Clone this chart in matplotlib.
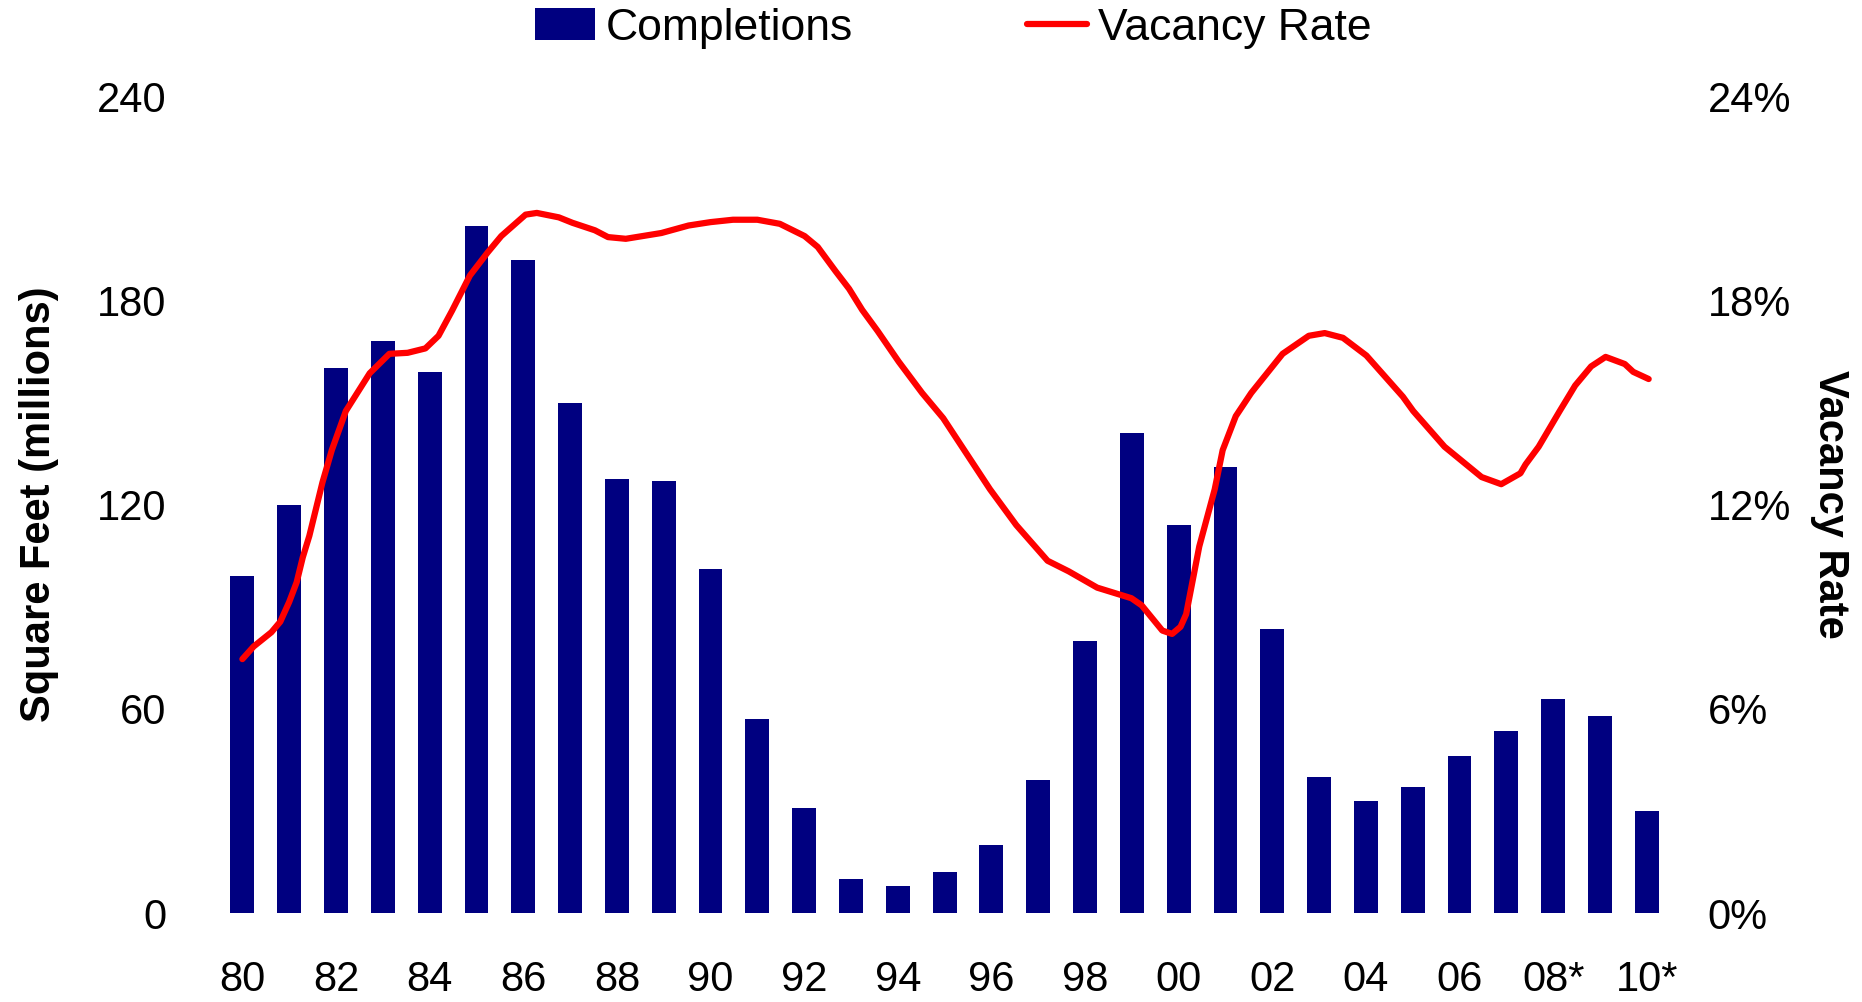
import matplotlib
matplotlib.use("Agg")
import matplotlib.pyplot as plt

plt.rcParams["font.family"] = ["Liberation Sans", "DejaVu Sans"]

# Completions, square feet (millions), 1980-2010
years = list(range(1980, 2011))
completions = [99, 120, 160, 168, 159, 202, 192, 150, 127.5, 127, 101, 57,
               31, 10, 8, 12, 20, 39, 80, 141, 114, 131, 83.5, 40, 33, 37,
               46, 53.5, 63, 58, 30]

# Vacancy rate (%)
vac_years = [1980.0, 1980.24, 1980.62, 1980.81, 1981.0, 1981.16, 1981.29, 1981.43,
             1981.71, 1981.91, 1982.21, 1982.72, 1983.14, 1983.53, 1983.91, 1984.19,
             1984.48, 1984.86, 1985.24, 1985.53, 1986.05, 1986.29, 1986.76, 1987.05,
             1987.53, 1987.81, 1988.19, 1988.95, 1989.53, 1990.0, 1990.48, 1991.0,
             1991.48, 1992.01, 1992.29, 1992.67, 1992.96, 1993.24, 1993.57, 1994.02,
             1994.52, 1994.97, 1995.52, 1995.97, 1996.53, 1997.2, 1997.65, 1998.26,
             1998.99, 1999.21, 1999.65, 1999.86, 2000.04, 2000.16, 2000.44, 2000.77,
             2000.94, 2001.22, 2001.55, 2002.22, 2002.78, 2003.12, 2003.51, 2004.01,
             2004.79, 2005.01, 2005.68, 2006.47, 2006.89, 2007.3, 2007.41, 2007.69,
             2008.14, 2008.47, 2008.81, 2009.12, 2009.53, 2009.71, 2010.04]
vac_rate = [7.46, 7.83, 8.25, 8.56, 9.14, 9.72, 10.45, 11.08,
            12.65, 13.6, 14.75, 15.86, 16.43, 16.46, 16.59, 16.96,
            17.7, 18.73, 19.41, 19.89, 20.52, 20.57, 20.44, 20.28,
            20.06, 19.86, 19.81, 19.98, 20.2, 20.3, 20.37, 20.37,
            20.25, 19.89, 19.57, 18.86, 18.34, 17.72, 17.1, 16.2,
            15.28, 14.54, 13.39, 12.45, 11.4, 10.35, 10.04, 9.56,
            9.25, 9.04, 8.3, 8.2, 8.41, 8.78, 10.77, 12.45,
            13.6, 14.6, 15.28, 16.43, 16.96, 17.04, 16.9, 16.38,
            15.17, 14.75, 13.7, 12.81, 12.6, 12.92, 13.18, 13.7,
            14.75, 15.5, 16.06, 16.34, 16.13, 15.9, 15.69]

xtick_years = list(range(1980, 2011, 2))
xtick_labels = ["80", "82", "84", "86", "88", "90", "92", "94", "96", "98",
                "00", "02", "04", "06", "08*", "10*"]
left_ticks = [0, 60, 120, 180, 240]
right_ticks = [0, 6, 12, 18, 24]

fig = plt.figure(figsize=(18.62, 10.02), dpi=100)
ax = fig.add_axes([0.1176, 0.0888, 0.7794, 0.8152])
ax2 = ax.twinx()

bars = ax.bar(years, completions, width=0.51, color="#000080", label="Completions")
line, = ax2.plot(vac_years, vac_rate, color="#FF0000", linewidth=4.5,
                 solid_capstyle="round", solid_joinstyle="round",
                 label="Vacancy Rate")

ax.set_xlim(1979.5, 2010.5)
ax.set_ylim(0, 240)
ax2.set_ylim(0, 24)

ax.set_xticks(xtick_years)
ax.set_xticklabels(xtick_labels, fontsize=30)
ax.set_yticks(left_ticks)
ax.set_yticklabels([str(t) for t in left_ticks], fontsize=30)
ax2.set_yticks(right_ticks)
ax2.set_yticklabels([f"{t}%" for t in right_ticks], fontsize=30)

ax.tick_params(axis="x", length=0, pad=34)
ax.tick_params(axis="y", length=0, pad=38)
ax2.tick_params(axis="y", length=0, pad=27)

for a in (ax, ax2):
    for s in a.spines.values():
        s.set_visible(False)

ax.set_ylabel("Square Feet (millions)", fontsize=30, fontweight="bold")
ax.yaxis.set_label_coords(-0.11, 0.5)
ax2.set_ylabel("Vacancy Rate", fontsize=30, fontweight="bold", rotation=270,
               va="center", ha="center")
ax2.yaxis.set_label_coords(1.11, 0.5)

fig.legend([bars, line], ["Completions", "Vacancy Rate"], loc="center",
           bbox_to_anchor=(0.512, 0.972), ncol=2, frameon=False, fontsize=32,
           handlelength=1.35, handleheight=0.75, handletextpad=0.25,
           columnspacing=3.9)

fig.savefig("out.png", dpi=100, facecolor="white")
